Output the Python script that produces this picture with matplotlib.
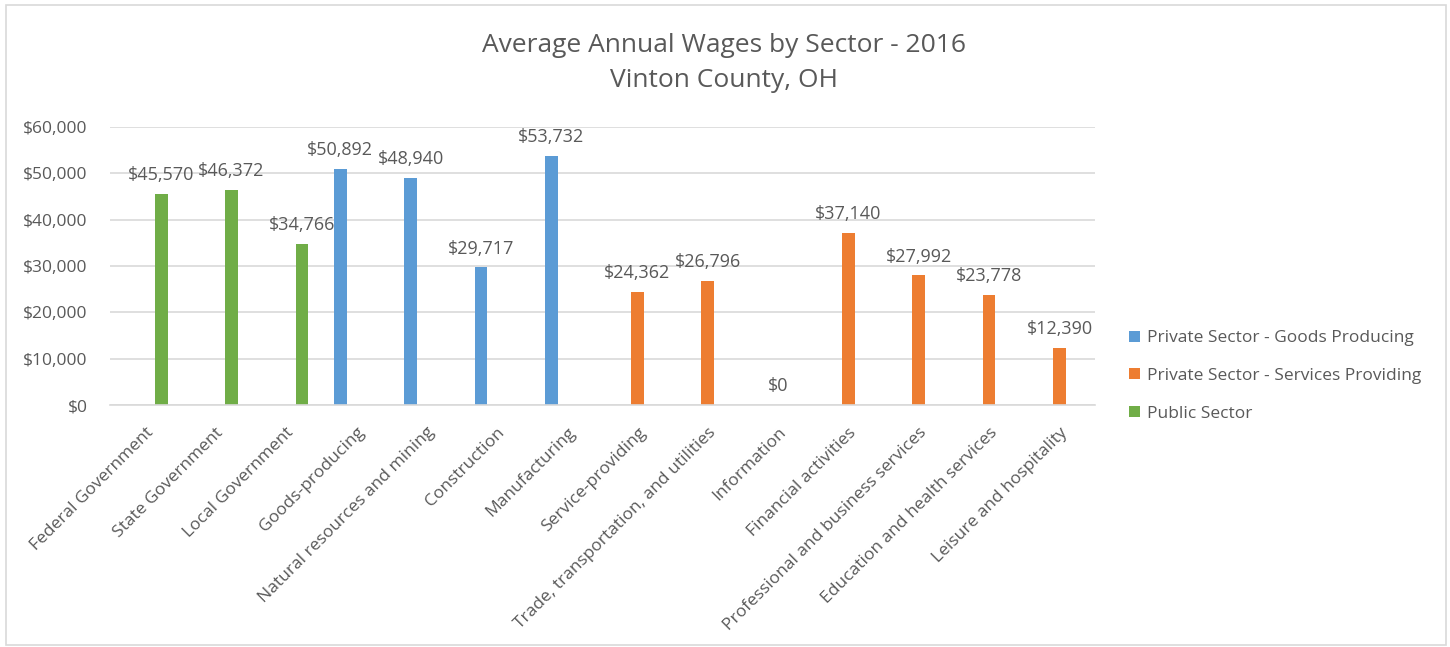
import matplotlib.pyplot as plt
import matplotlib.patches as patches
from matplotlib.ticker import FuncFormatter, MultipleLocator
import numpy as np

plt.rcParams['font.family'] = ['Open Sans', 'DejaVu Sans']

# categories (x axis)
sectors = ['Federal Government', 'State Government', 'Local Government',
           'Goods-producing', 'Natural resources and mining', 'Construction',
           'Manufacturing', 'Service-providing',
           'Trade, transportation, and utilities', 'Information',
           'Financial activities', 'Professional and business services',
           'Education and health services', 'Leisure and hospitality']

nan = np.nan
# wages per series, blank where the sector is not in the series
goods_producing = [nan, nan, nan, 50892, 48940, 29717, 53732,
                   nan, nan, nan, nan, nan, nan, nan]
services_providing = [nan, nan, nan, nan, nan, nan, nan,
                      24362, 26796, 0, 37140, 27992, 23778, 12390]
public_sector = [45570, 46372, 34766, nan, nan, nan, nan,
                 nan, nan, nan, nan, nan, nan, nan]

series_names = ['Private Sector - Goods Producing',
                'Private Sector - Services Providing', 'Public Sector']
series_data = [goods_producing, services_providing, public_sector]
colors = ['#5B9BD5', '#ED7D31', '#70AD47']

text_color = '#595959'

fig = plt.figure(figsize=(14.5, 6.47), dpi=100)
ax = fig.add_axes([0.0759, 0.374, 0.679, 0.43])

x = np.arange(len(sectors))
bar_w = 0.18
offsets = [-0.227, 0, 0.227]

for name, vals, col, off in zip(series_names, series_data, colors, offsets):
    vals = np.array(vals, dtype=float)
    ax.bar(x + off, np.nan_to_num(vals), width=bar_w, color=col, label=name)
    for xi, v in zip(x, vals):
        if not np.isnan(v):
            ax.annotate('${:,.0f}'.format(v), (xi + off, v), xytext=(0, 7),
                        textcoords='offset points', ha='center', va='bottom',
                        fontsize=13, color=text_color)

ax.set_xlim(-0.5, len(sectors) - 0.5)
ax.set_ylim(0, 60000)
ax.yaxis.set_major_locator(MultipleLocator(10000))
ax.yaxis.set_major_formatter(FuncFormatter(lambda v, p: '${:,.0f}'.format(v)))
ax.grid(axis='y', color='#d9d9d9', linewidth=1.2)
ax.set_axisbelow(True)
for s in ['top', 'right', 'left']:
    ax.spines[s].set_visible(False)
ax.spines['bottom'].set_color('#d9d9d9')
ax.spines['bottom'].set_linewidth(1.2)

ax.set_xticks(x)
ax.set_xticklabels(sectors, rotation=45, ha='right', rotation_mode='anchor',
                   fontsize=12.5, color=text_color)
ax.tick_params(axis='x', length=0, pad=14)
ax.tick_params(axis='y', length=0, pad=16, labelsize=12.5, labelcolor=text_color)

fig.text(0.499, 0.93, 'Average Annual Wages by Sector - 2016', ha='center',
         va='center', fontsize=19, color=text_color)
fig.text(0.499, 0.876, 'Vinton County, OH', ha='center', va='center',
         fontsize=19, color=text_color)

leg = fig.legend(loc='center left', bbox_to_anchor=(0.768, 0.419), frameon=False,
                 fontsize=12.5, handlelength=0.6, handleheight=0.6,
                 handletextpad=0.4, labelspacing=1.25, labelcolor=text_color)

# outer chart border
fig.patches.append(patches.Rectangle((0.004, 0.003), 0.993, 0.99, transform=fig.transFigure,
                                     fill=False, edgecolor='#d9d9d9', linewidth=1.2))

plt.savefig('out.png', dpi=100)
